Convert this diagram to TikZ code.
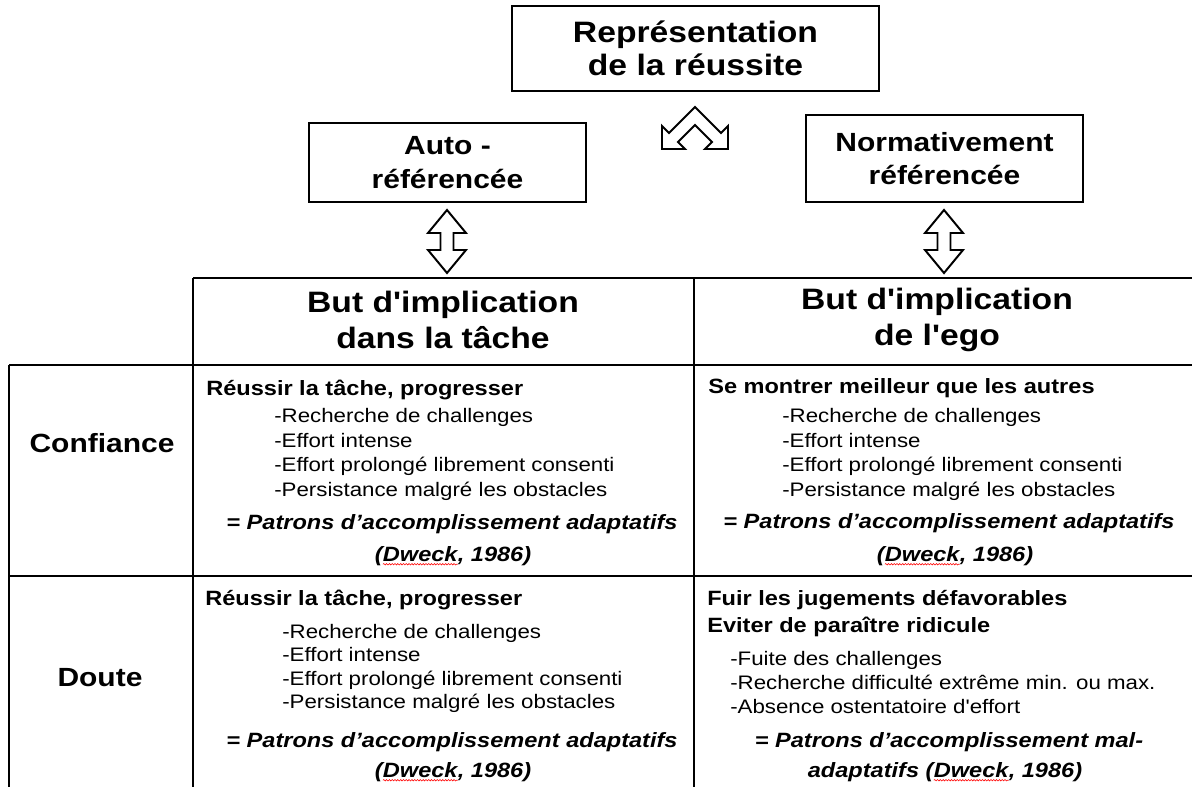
\documentclass[tikz,border=0pt]{standalone}
\usepackage{fontspec}
\setmainfont{Liberation Sans}[FakeStretch=1.14,Ligatures=TeXOff]
\usetikzlibrary{calc}
\usetikzlibrary{decorations.pathmorphing}
\tikzset{>=latex}
\tikzset{
	cadre/.style={draw, line width=1.4pt, inner sep=0pt, align=center, font=\fontsize{18.7}{24}\selectfont\bfseries},
	trait/.style={line width=1.4pt},
	fleche/.style={draw, line width=1.4pt, fill=white, line join=miter},
	titre/.style={align=center, inner sep=0pt, font=\fontsize{21}{25.5}\selectfont\bfseries},
	ligne/.style={inner sep=0pt, font=\fontsize{18.7}{22}\selectfont\bfseries},
	tete/.style={anchor=base west, inner sep=0pt, font=\fontsize{14.7}{19}\selectfont\bfseries},
	liste/.style={anchor=base west, inner sep=0pt, font=\fontsize{13.9}{17}\selectfont},
	patron/.style={anchor=base, inner sep=0pt, font=\fontsize{14.7}{20}\selectfont\bfseries\itshape}
}
\newcommand{\souligne}[1]{\tikz[baseline=(mot.base)]{\node[inner sep=0pt, outer sep=0pt, anchor=base, draw=none] (mot) {#1};
	\draw[red, line width=0.4pt, decorate, decoration={snake, amplitude=0.5pt, segment length=2pt}] ([yshift=-2.3pt]mot.base west) -- ([yshift=-2.3pt]mot.base east);}}

\begin{document}
\begin{tikzpicture}[x=0.025cm, y=-0.025cm]
	\useasboundingbox (0,0) rectangle (1192,787);
	% boites du haut
	\node[cadre, minimum width=9.175cm, minimum height=2.125cm, font=\fontsize{21}{23.8}\selectfont\bfseries] (R) at (695.5,48.5) {Représentation\\de la réussite};
	\node[cadre, minimum width=6.925cm, minimum height=1.975cm] (A) at (447.5,162.5) {Auto -\\référencée};
	\node[cadre, minimum width=6.925cm, minimum height=2.175cm] (N) at (944.5,158.5) {Normativement\\référencée};
	
	% fleche en chevron
	\draw[fleche] (695,107) -- (669,133) -- (662,126) -- (662,149) -- (685,149) -- (678,142) -- (695,125)
		-- (712,142) -- (705,149) -- (728,149) -- (728,126) -- (721,133) -- cycle;
	% fleches doubles
	\foreach \x in {447,944}
		\draw[fleche] (\x,210) -- ({\x+19},233) -- ({\x+6.5},233) -- ({\x+6.5},250) -- ({\x+19},250) -- (\x,273)
			-- ({\x-19},250) -- ({\x-6.5},250) -- ({\x-6.5},233) -- ({\x-19},233) -- cycle;
	
	% tableau
	\coordinate (T1) at (193,278);
	\coordinate (T2) at (694,278);
	\coordinate (L1) at (9,365);
	\coordinate (L2) at (9,576);
	\draw[trait] (T1) -- (1192,278);
	\draw[trait] (L1) -- (1192,365);
	\draw[trait] (L2) -- (1192,576);
	\draw[trait] (L1) -- (9,787);
	\draw[trait] (T1) -- (193,787);
	\draw[trait] (T2) -- (694,787);
	
	\node[titre] (B1) at (443,320) {But d'implication\\dans la tâche};
	\node[titre] (B2) at (937,320) {But d'implication\\de l'ego};
	\node[ligne] (C) at (102,443) {Confiance};
	\node[ligne] (D) at (100,678) {Doute};
	
	% confiance
	\node[tete] (c1) at (206,396) {Réussir la tâche, progresser};
	\foreach \t [count=\i] in {-Recherche de challenges,-Effort intense,-Effort prolongé librement consenti,-Persistance malgré les obstacles}
		\node[liste] (cl\i) at (274,{423+(\i-1)*24.5}) {\t};
	\node[patron] (cp1) at (452,529) {= Patrons d’accomplissement adaptatifs};
	\node[patron] (cp2) at (453,561) {(\souligne{Dweck}, 1986)};
	
	\node[tete] (c2) at (708,394) {Se montrer meilleur que les autres};
	\foreach \t [count=\i] in {-Recherche de challenges,-Effort intense,-Effort prolongé librement consenti,-Persistance malgré les obstacles}
		\node[liste] (cr\i) at (782,{423+(\i-1)*24.5}) {\t};
	\node[patron] (cp3) at (949,528) {= Patrons d’accomplissement adaptatifs};
	\node[patron] (cp4) at (955,561) {(\souligne{Dweck}, 1986)};
	
	% doute
	\node[tete] (d1) at (205,605) {Réussir la tâche, progresser};
	\foreach \t [count=\i] in {-Recherche de challenges,-Effort intense,-Effort prolongé librement consenti,-Persistance malgré les obstacles}
		\node[liste] (dl\i) at (282,{638+(\i-1)*23.5}) {\t};
	\node[patron] (dp1) at (452,747) {= Patrons d’accomplissement adaptatifs};
	\node[patron] (dp2) at (453,777) {(\souligne{Dweck}, 1986)};
	
	\node[tete] (d2) at (707,605) {Fuir les jugements défavorables};
	\node[tete] (d3) at (707,632) {Eviter de paraître ridicule};
	\foreach \t [count=\i] in {-Fuite des challenges,-Recherche difficulté extrême min. ou max.,-Absence ostentatoire d'effort}
		\node[liste] (dr\i) at (730,{665+(\i-1)*24}) {\t};
	\node[patron] (dp3) at (949,747) {= Patrons d’accomplissement mal-};
	\node[patron] (dp4) at (945,777) {adaptatifs (\souligne{Dweck}, 1986)};
\end{tikzpicture}
\end{document}
